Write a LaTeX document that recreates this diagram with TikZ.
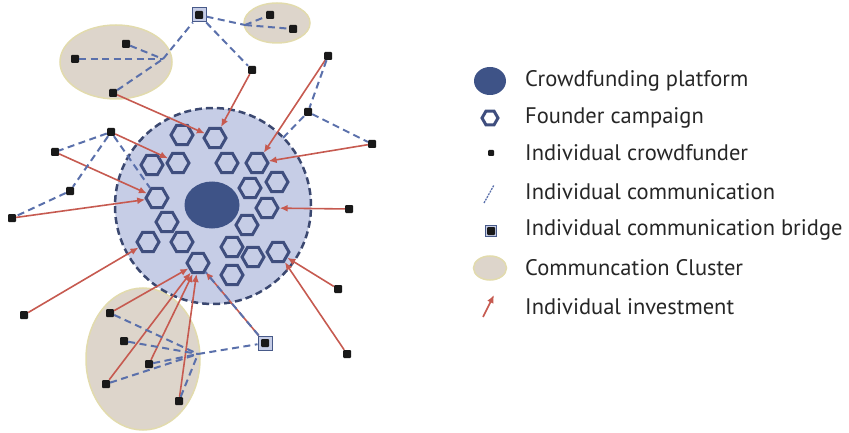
\documentclass[tikz,border=0pt]{standalone}
\usepackage{fontspec}
\setmainfont{PT Sans}
\usetikzlibrary{shapes.geometric,arrows.meta}

\definecolor{ringfill}{HTML}{C6CDE6}
\definecolor{ringline}{HTML}{3B4870}
\definecolor{platblue}{HTML}{3E5387}
\definecolor{hexblue}{HTML}{3F4E7E}
\definecolor{talkblue}{HTML}{5A70AB}
\definecolor{payred}{HTML}{C65A50}
\definecolor{clusterbg}{HTML}{DDD5CB}

\tikzset{
  funder/.style={fill=black!90, minimum size=8pt, inner sep=0pt, rounded corners=1pt},
  bridge/.style={draw=talkblue!80!black, fill=ringfill, line width=1pt, minimum size=14pt, inner sep=0pt,
    path picture={\fill[black!90, rounded corners=1pt] ([shift={(-4pt,-4pt)}]path picture bounding box.center) rectangle ++(8pt,8pt);}},
  campaign/.style={regular polygon, regular polygon sides=6, draw=hexblue, line width=3pt, minimum size=22pt, inner sep=0pt},
  cluster/.style={ellipse, fill=clusterbg, draw=clusterbg!85!yellow, line width=1.5pt, inner sep=0pt},
  talk/.style={talkblue, line width=2pt, dash pattern=on 7pt off 4.5pt},
  pay/.style={payred, line width=1.6pt, -{Latex[length=8pt,width=7pt]}},
  legendtext/.style={anchor=west, inner sep=0pt, font=\fontsize{22.5}{26}\selectfont, text=black!85}
}

\begin{document}
\begin{tikzpicture}[x=1pt, y=-1pt]
\useasboundingbox (0,0) rectangle (849,433);

% clusters
\node (tlclust) [cluster, minimum width=112pt, minimum height=74pt] at (116,62) {};
\node (trclust) [cluster, minimum width=66pt, minimum height=40pt] at (277,23) {};
\node (blclust) [cluster, minimum width=114pt, minimum height=142pt] at (143,359) {};

% platform and campaigns
\node (ring) [circle, fill=ringfill, draw=ringline, line width=2.5pt, dash pattern=on 7pt off 4pt, minimum size=196pt] at (213,206) {};
\node (plat) [ellipse, fill=platblue, minimum width=55pt, minimum height=47pt, inner sep=0pt] at (212,205) {};
\foreach \x/\y [count=\i] in {182/135, 215/138, 152/165, 178/163, 227/163, 257/163, 277/182,
  250/188, 157/198, 267/208, 167/222, 247/225, 148/242, 182/242, 232/247, 253/257, 278/252,
  198/263, 232/275}
  \node (h\i) [campaign] at (\x,\y) {};

% crowdfunders
\node (tl1) [funder] at (126,44) {};
\node (tl2) [funder] at (75,59) {};
\node (tl3) [funder] at (113,93) {};
\node (tr1) [funder] at (270,15) {};
\node (tr2) [funder] at (293,29) {};
\node (t1) [funder] at (252,70) {};
\node (r1) [funder] at (328,56) {};
\node (r2) [funder] at (308,112) {};
\node (r3) [funder] at (372,144) {};
\node (r4) [funder] at (349,209) {};
\node (r5) [funder] at (338,289) {};
\node (r6) [funder] at (347,354) {};
\node (l1) [funder] at (111,132) {};
\node (l2) [funder] at (55,152) {};
\node (l3) [funder] at (70,191) {};
\node (l4) [funder] at (12,218) {};
\node (l5) [funder] at (24,315) {};
\node (b1) [funder] at (110,313) {};
\node (b2) [funder] at (124,341) {};
\node (b3) [funder] at (149,364) {};
\node (b4) [funder] at (106,384) {};
\node (b5) [funder] at (179,401) {};
\node (topbr) [bridge] at (199,15) {};
\node (botbr) [bridge] at (265,343) {};

\coordinate (tlhub) at (163,59);
\coordinate (trhub) at (245,25);
\coordinate (bhub) at (198,354);
\coordinate (r2end) at (281,140);

% investments
\foreach \a/\b in {tl3/h2, t1/h2, r1/h6, r3/h6, l1/h4, l2/h9, l4/h9, r4/h10, l5/h13,
  b1/h18, b3/h18, b4/h18, b5/h18, botbr/h18, r5/h17, r6/h17}
  \draw [pay] (\a) -- (\b);

% communication
\foreach \a/\b in {tl1/tlhub, tl2/tlhub, tl3/tlhub, tlhub/topbr, topbr/trhub, trhub/tr1, trhub/tr2,
  topbr/t1, r1/r2, r2/r3, r2/r2end, l1/l2, l1/l3, l3/l4, l1/h9,
  b1/bhub, b2/bhub, b3/bhub, b4/bhub, b5/bhub, bhub/botbr, botbr/h18}
  \draw [talk] (\a) -- (\b);

% legend
\node (lgplat) [ellipse, fill=platblue, minimum width=32pt, minimum height=28pt, inner sep=0pt] at (490,81) {};
\node (lghex) [campaign, minimum size=16pt, line width=3pt] at (490,118) {};
\node (lgdot) [funder, minimum size=6pt] at (491,153) {};
\coordinate (lgla) at (484,203);
\coordinate (lglb) at (494,185);
\draw [talk, line width=1.3pt, dash pattern=on 2pt off 1pt] (lgla) -- (lglb);
\node (lgbridge) [bridge, minimum size=11pt] at (491,231) {};
\node (lgclust) [cluster, minimum width=33pt, minimum height=24pt] at (490,268) {};
\coordinate (lgpa) at (483,317);
\coordinate (lgpb) at (494,295);
\draw [pay] (lgpa) -- (lgpb);

\node (txplat) [legendtext] at (525,81) {Crowdfunding platform};
\node (txhex) [legendtext] at (525,118) {Founder campaign};
\node (txdot) [legendtext] at (525,153) {Individual crowdfunder};
\node (txline) [legendtext] at (525,192) {Individual communication};
\node (txbridge) [legendtext] at (525,230) {Individual communication bridge};
\node (txclust) [legendtext] at (525,268) {Communcation Cluster};
\node (txpay) [legendtext] at (525,307) {Individual investment};
\end{tikzpicture}
\end{document}
